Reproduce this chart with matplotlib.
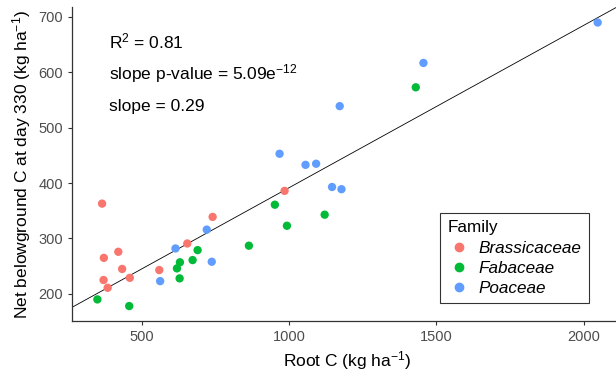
import numpy as np
import matplotlib
matplotlib.use("Agg")
import matplotlib.pyplot as plt
from matplotlib.lines import Line2D

plt.rcParams['font.family'] = ['Liberation Sans', 'DejaVu Sans']
plt.rcParams['mathtext.fontset'] = 'custom'
plt.rcParams['mathtext.rm'] = 'Liberation Sans'
plt.rcParams['mathtext.it'] = 'Liberation Sans:italic'

# données
families = ['Brassicaceae', 'Fabaceae', 'Poaceae']
colors = ['#F8766D', '#00BA38', '#619CFF']

brass_x = [366, 372, 421, 434, 371, 385, 460, 560, 655, 741, 985]
brass_y = [363, 265, 276, 245, 225, 211, 229, 243, 291, 339, 386]

faba_x = [350, 458, 630, 620, 629, 673, 690, 864, 952, 993, 1121, 1430]
faba_y = [190, 178, 257, 246, 228, 261, 279, 287, 361, 323, 343, 573]

poa_x = [563, 615, 721, 738, 1146, 1178, 968, 1056, 1092, 1172, 1456, 2047]
poa_y = [223, 282, 316, 258, 393, 389, 453, 433, 435, 539, 617, 690]

xs = [brass_x, faba_x, poa_x]
ys = [brass_y, faba_y, poa_y]

fig = plt.figure(figsize=(6.16, 3.73), dpi=100)
ax = fig.add_axes([0.1169, 0.1394, 0.8945, 0.8418])

for fam, c, x, y in zip(families, colors, xs, ys):
    ax.scatter(x, y, s=36, color=c, edgecolors='none', zorder=3)

# droite de régression
allx = np.concatenate([np.array(v, float) for v in xs])
ally = np.concatenate([np.array(v, float) for v in ys])
b, a = np.polyfit(allx, ally, 1)
xlim = (264, 2133)
ax.set_xlim(xlim)
ax.set_ylim(151, 718)
xl = np.array(xlim)
ax.plot(xl, a + b * xl, color='black', lw=0.6, zorder=2)

ax.text(389, 655, r'R$^{2}$ = 0.81', fontsize=12.5, va='center', ha='left')
ax.text(389, 597, r'slope p-value = 5.09e$^{-12}$', fontsize=12.5, va='center', ha='left')
ax.text(389, 539, 'slope = 0.29', fontsize=12.5, va='center', ha='left')

ax.set_xticks([500, 1000, 1500, 2000])
ax.set_yticks([200, 300, 400, 500, 600, 700])
ax.tick_params(labelsize=10.5, labelcolor='#4D4D4D', color='#333333', length=3, width=0.8)
ax.spines['top'].set_visible(False)
ax.spines['right'].set_visible(False)
for s in ['left', 'bottom']:
    ax.spines[s].set_color('#333333')
    ax.spines[s].set_linewidth(0.9)

ax.set_xlabel(r'Root C (kg ha$^{-1}$)', fontsize=12.5, labelpad=4)
ax.set_ylabel(r'Net belowground C at day 330 (kg ha$^{-1}$)', fontsize=12.5, labelpad=4)

handles = [Line2D([], [], marker='o', ls='', color=c, markersize=6) for c in colors]
leg = ax.legend(handles, families, title='Family', loc='upper left',
                bbox_to_anchor=(0.6525, 0.372), frameon=True, fancybox=False,
                edgecolor='black', prop={'style': 'italic', 'size': 12.3},
                title_fontsize=12.3, handletextpad=0.5, borderpad=0.45,
                labelspacing=0.3, handlelength=1.3)
leg.get_frame().set_linewidth(0.8)
leg._legend_box.align = 'left'

fig.savefig('out.png', dpi=100)
